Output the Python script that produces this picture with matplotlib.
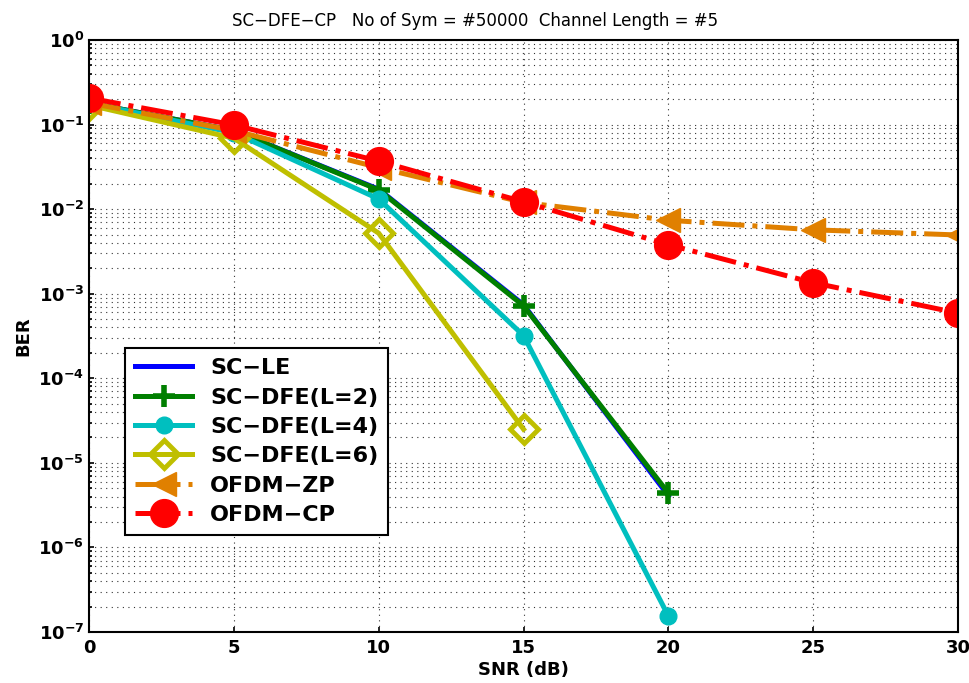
import matplotlib
matplotlib.use('Agg')
import matplotlib.pyplot as plt
from matplotlib.ticker import LogLocator, NullFormatter

snr = [0, 5, 10, 15, 20, 25, 30]

sc_le = [0.18, 0.085, 0.0172, 7.4e-4, 4.1e-6]
sc_dfe2 = [0.18, 0.085, 0.0169, 7.2e-4, 4.4e-6]
sc_dfe4 = [0.18, 0.08, 0.0132, 3.2e-4, 1.55e-7]
sc_dfe6 = [0.17, 0.069, 5.2e-3, 2.5e-5]
ofdm_zp = [0.18, 0.085, 0.031, 0.012, 7.4e-3, 5.7e-3, 4.95e-3]
ofdm_cp = [0.206, 0.099, 0.037, 0.0122, 3.8e-3, 1.35e-3, 5.9e-4]

labels = ['SC\u2212LE', 'SC\u2212DFE(L=2)', 'SC\u2212DFE(L=4)', 'SC\u2212DFE(L=6)',
          'OFDM\u2212ZP', 'OFDM\u2212CP']

fig = plt.figure(figsize=(9.7, 6.83), dpi=100)
ax = fig.add_axes([0.0918, 0.0747, 0.8958, 0.8667])

lw = 3.6
ax.semilogy(snr[:5], sc_le, color='#0000ff', lw=lw, marker='.', ms=4, label=labels[0])
ax.semilogy(snr[:5], sc_dfe2, color='#007f00', lw=lw, marker='+', ms=16, mew=4, label=labels[1])
ax.semilogy(snr[:5], sc_dfe4, color='#00bfbf', lw=lw, marker='o', ms=12, label=labels[2])
ax.semilogy(snr[:4], sc_dfe6, color='#bfbf00', lw=lw, marker='D', ms=14, mfc='none', mew=3.5,
            label=labels[3])
ax.semilogy(snr, ofdm_zp, color='#e08000', lw=lw, ls='-.', marker='<', ms=17, label=labels[4])
ax.semilogy(snr, ofdm_cp, color='#ff0000', lw=lw, ls='-.', marker='o', ms=20, label=labels[5])

ax.set_xlim(0, 30)
ax.set_ylim(1e-7, 1)
ax.set_xticks([0, 5, 10, 15, 20, 25, 30])
ax.yaxis.set_major_locator(LogLocator(base=10, numticks=10))
ax.yaxis.set_minor_locator(LogLocator(base=10, subs=range(2, 10), numticks=100))
ax.yaxis.set_minor_formatter(NullFormatter())
grid_style = dict(color='#333333', ls=(0, (1, 4)), lw=0.8)
ax.grid(True, which='major', **grid_style)
ax.grid(True, which='minor', axis='y', **grid_style)
ax.tick_params(which='both', direction='in', labelsize=13, width=1.2)
ax.tick_params(axis='x', pad=5)
for t in ax.get_xticklabels() + ax.get_yticklabels():
    t.set_fontweight('bold')
for s in ax.spines.values():
    s.set_linewidth(1.5)

ax.set_xlabel('SNR (dB)', fontsize=13, fontweight='bold', labelpad=3)
ax.set_ylabel('BER', fontsize=13, fontweight='bold')
ax.set_title('SC\u2212DFE\u2212CP   No of Sym = #50000  Channel Length = #5', fontsize=12,
             x=0.444, pad=10)

leg = ax.legend(loc='lower left', bbox_to_anchor=(0.041, 0.164),
                prop={'weight': 'bold', 'size': 16}, fancybox=False, framealpha=1,
                edgecolor='black', handlelength=2.6, borderpad=0.45, labelspacing=0.42,
                borderaxespad=0)
leg.get_frame().set_linewidth(1.5)

fig.savefig('out.png', dpi=100)
